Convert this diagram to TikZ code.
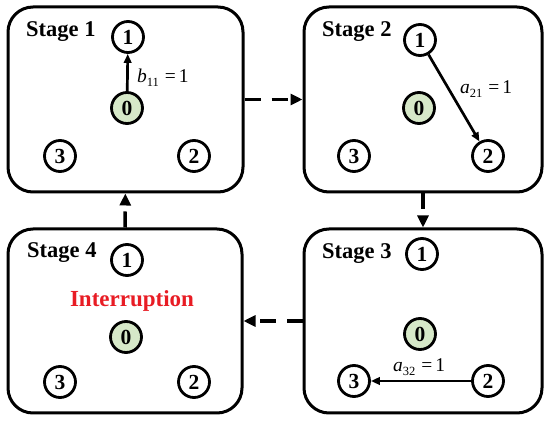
\documentclass[tikz,border=0pt]{standalone}
\usepackage{fontspec}
\setmainfont{Liberation Serif}
\usetikzlibrary{arrows.meta}
\definecolor{zgreen}{RGB}{214,232,200}
\definecolor{zred}{RGB}{232,28,36}
\begin{document}
\begin{tikzpicture}[x=1pt,y=-1pt,
  stagebox/.style={draw, line width=3pt, rounded corners=25pt, inner sep=0pt},
  vert/.style={circle, draw, line width=2.8pt, minimum size=31pt, inner sep=0pt,
    font=\fontsize{21.5}{21.5}\selectfont\bfseries},
  root/.style={vert, fill=zgreen},
  edgearrow/.style={-{Triangle[length=9pt,width=7.5pt]}, line width=2.7pt},
  flow/.style={-{Triangle[length=12pt,width=11pt]}, line width=3.5pt, dash pattern=on 16pt off 11pt},
  stagelabel/.style={anchor=west, inner sep=0pt, font=\fontsize{22.5}{22.5}\selectfont\bfseries},
  eqlabel/.style={anchor=base west, inner sep=0pt, font=\fontsize{19.5}{19.5}\selectfont}
]
\useasboundingbox (0,0) rectangle (550,422);
\newcommand{\zsub}[1]{\raisebox{-4pt}{\fontsize{12.5}{12.5}\selectfont #1}}

% boxes
\node[stagebox, minimum width=235pt, minimum height=185pt] (b1) at (125.5,99.5) {};
\node[stagebox, minimum width=238pt, minimum height=185pt] (b2) at (423,99.5) {};
\node[stagebox, minimum width=238pt, minimum height=184pt] (b3) at (423,321) {};
\node[stagebox, minimum width=234pt, minimum height=184pt] (b4) at (125,321) {};

% stage labels
\node[stagelabel] (l1) at (26,32) {Stage 1};
\node[stagelabel] (l2) at (322,32) {Stage 2};
\node[stagelabel] (l3) at (322,254) {Stage 3};
\node[stagelabel] (l4) at (27,253) {Stage 4};

% stage 1
\node[vert] (s1n1) at (128,37) {1};
\node[root] (s1n0) at (127,108) {0};
\node[vert] (s1n3) at (60,156) {3};
\node[vert] (s1n2) at (194,156) {2};
\draw[edgearrow] (s1n0) -- (s1n1);
\node[eqlabel] (e1) at (137,83) {\textit{b}\zsub{11}\hspace{6pt}=\hspace{3pt}1};

% stage 2
\node[vert] (s2n1) at (420,40) {1};
\node[root] (s2n0) at (419,108) {0};
\node[vert] (s2n3) at (354,156) {3};
\node[vert] (s2n2) at (488,156) {2};
\draw[edgearrow] (s2n1) -- (s2n2);
\node[eqlabel] (e2) at (460,94) {\textit{a}\zsub{21}\hspace{6pt}=\hspace{3pt}1};

% stage 3
\node[vert] (s3n1) at (422,254) {1};
\node[root] (s3n0) at (420,334) {0};
\node[vert] (s3n3) at (354,381) {3};
\node[vert] (s3n2) at (488,381) {2};
\draw[edgearrow] (s3n2) -- (s3n3);
\node[eqlabel] (e3) at (393,372) {\textit{a}\zsub{32}\hspace{6pt}=\hspace{3pt}1};

% stage 4
\node[vert] (s4n1) at (127,260) {1};
\node[root] (s4n0) at (126,337) {0};
\node[vert] (s4n3) at (60,382) {3};
\node[vert] (s4n2) at (194,382) {2};
\node[inner sep=0pt, text=zred, font=\fontsize{23}{23}\selectfont\bfseries] (intr) at (132,301) {Interruption};

% flow between stages
\draw[flow] (b1) -- (b2);
\draw[flow] (b2) -- (b3);
\draw[flow] (b3) -- (b4);
\draw[flow] (b4) -- (b1);
\end{tikzpicture}
\end{document}
